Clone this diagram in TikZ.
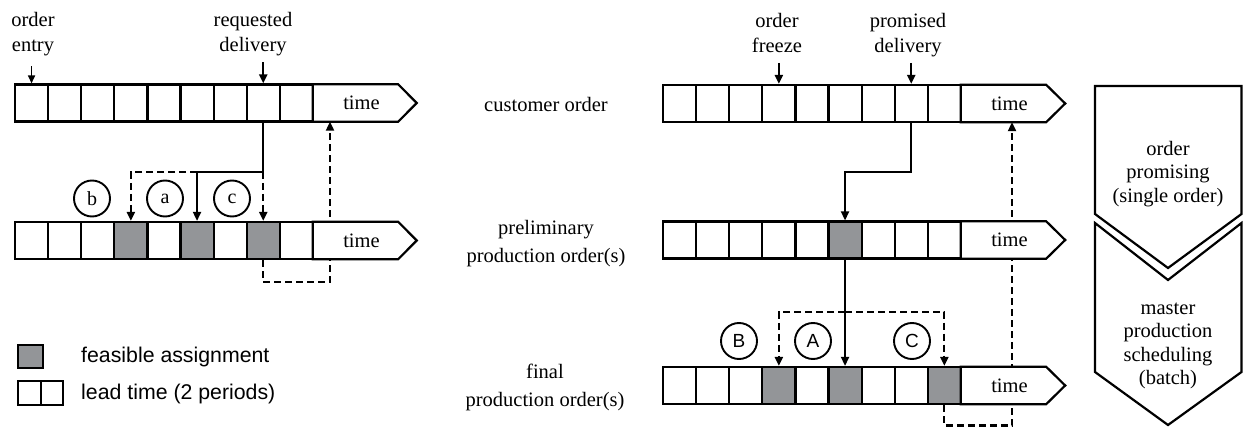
\documentclass[tikz,border=0pt]{standalone}
\usepackage{fontspec}
\setmainfont{Liberation Serif}
\newfontfamily\sansf{Liberation Sans}
\usetikzlibrary{arrows.meta,backgrounds}
\definecolor{cellgray}{RGB}{147,149,152}
\begin{document}
\begin{tikzpicture}[x=1pt,y=-1pt,
  cell/.style={draw, line width=2.2pt, minimum width=33.1pt, minimum height=37pt, inner sep=0pt, fill=white},
  gcell/.style={cell, fill=cellgray},
  tbox/.style={minimum width=85pt, minimum height=37pt, inner sep=0pt},
  tline/.style={line width=2.2pt, fill=white, line join=miter},
  arr/.style={line width=2.1pt, -{Triangle[length=9pt,width=8pt]}},
  thinarr/.style={line width=1.5pt, -{Triangle[length=8pt,width=7pt]}},
  dsh/.style={dash pattern=on 7pt off 4pt},
  lbl/.style={font=\fontsize{20.5}{24.5}\selectfont, align=center, inner sep=0pt},
  mlbl/.style={font=\fontsize{20.5}{28}\selectfont, align=center, inner sep=0pt},
  clbl/.style={font=\fontsize{20.5}{23.5}\selectfont, align=center, inner sep=0pt},
  slbl/.style={font=\sansf\fontsize{21.3}{25}\selectfont, inner sep=0pt},
  circ/.style={draw, circle, line width=1.9pt, minimum size=36pt, inner sep=0pt, font=\fontsize{20}{22}\selectfont},
  scirc/.style={circ, font=\sansf\fontsize{19}{22}\selectfont},
  chev/.style={line width=2.2pt, line join=miter}
]
\useasboundingbox (0,0) rectangle (1243,427);

% ---------- left rows ----------
\foreach \i in {1,...,9}
  \node[cell] (L1c\i) at ({15+33.1*(\i-0.5)},103) {};
\node[tbox] (L1t) at (355.5,103) {};
\draw[tline] (L1t.north west) -- (L1t.north east) -- ([xshift=18.5pt]L1t.east) -- (L1t.south east) -- (L1t.south west) -- cycle;
\node[lbl] (L1tl) at ([xshift=6pt]L1t.center) {time};

\foreach \i/\st in {1/cell,2/cell,3/cell,4/gcell,5/cell,6/gcell,7/cell,8/gcell,9/cell}
  \node[\st] (L2c\i) at ({15+33.1*(\i-0.5)},240.5) {};
\node[tbox] (L2t) at (355.5,240.5) {};
\draw[tline] (L2t.north west) -- (L2t.north east) -- ([xshift=18.5pt]L2t.east) -- (L2t.south east) -- (L2t.south west) -- cycle;
\node[lbl] (L2tl) at ([xshift=6pt]L2t.center) {time};

% ---------- right rows ----------
\foreach \i in {1,...,9}
  \node[cell] (R1c\i) at ({663+33.1*(\i-0.5)},103.5) {};
\node[tbox] (R1t) at (1003.5,103.5) {};
\draw[tline] (R1t.north west) -- (R1t.north east) -- ([xshift=19pt]R1t.east) -- (R1t.south east) -- (R1t.south west) -- cycle;
\node[lbl] (R1tl) at ([xshift=6pt]R1t.center) {time};

\foreach \i/\st in {1/cell,2/cell,3/cell,4/cell,5/cell,6/gcell,7/cell,8/cell,9/cell}
  \node[\st] (R2c\i) at ({663+33.1*(\i-0.5)},240) {};
\node[tbox] (R2t) at (1003.5,240) {};
\draw[tline] (R2t.north west) -- (R2t.north east) -- ([xshift=19pt]R2t.east) -- (R2t.south east) -- (R2t.south west) -- cycle;
\node[lbl] (R2tl) at ([xshift=6pt]R2t.center) {time};

\foreach \i/\st in {1/cell,2/cell,3/cell,4/gcell,5/cell,6/gcell,7/cell,8/cell,9/gcell}
  \node[\st] (R3c\i) at ({663+33.1*(\i-0.5)},385.5) {};
\node[tbox] (R3t) at (1003.5,385.5) {};
\draw[tline] (R3t.north west) -- (R3t.north east) -- ([xshift=19pt]R3t.east) -- (R3t.south east) -- (R3t.south west) -- cycle;
\node[lbl] (R3tl) at ([xshift=6pt]R3t.center) {time};

% ---------- top labels ----------
\node[lbl] (oe) at (33,34) {order\\entry};
\node[lbl] (rd) at (253,34) {requested\\delivery};
\node[lbl] (of) at (777,33) {order\\freeze};
\node[lbl] (pd) at (908,35) {promised\\delivery};
\draw[thinarr] ([yshift=17pt]L1c1.north) -- (L1c1.north);
\draw[arr] ([yshift=21pt]L1c8.north) -- (L1c8.north);
\draw[arr] ([yshift=21pt]R1c4.north) -- (R1c4.north);
\draw[arr] ([yshift=21pt]R1c8.north) -- (R1c8.north);

% ---------- middle labels ----------
\node[lbl, anchor=base] (co) at (546,112) {customer order};
\node[mlbl] (ppo) at (546,243.5) {preliminary\\production order(s)};
\node[mlbl] (fpo) at (545,387) {final\\production order(s)};

% ---------- circles ----------
\node[circ] (cb) at (92,198.5) {b};
\node[circ] (ca) at (165,198.5) {a};
\node[circ] (cc) at (232,198.5) {c};
\node[scirc] (cB) at (739,341) {B};
\node[scirc] (cA) at (813,341) {A};
\node[scirc] (cC) at (912,341) {C};

% ---------- left connectors ----------
\coordinate (yL) at (0,172);
\coordinate (yL2) at (0,282);
\coordinate (xL) at (330,0);
\draw[arr] (L1c8.south) -- (L1c8.south |- yL) -| (L2c6.north);
\draw[arr,dsh] (L2c6.north |- yL) -| (L2c4.north);
\draw[arr,dsh] (L1c8.south |- yL) -- (L2c8.north);
\begin{pgfonlayer}{background}
\draw[arr,dsh] (L2c8.south) -- (L2c8.south |- yL2) -| (xL |- L1t.south);
\end{pgfonlayer}

% ---------- right connectors ----------
\coordinate (yR) at (0,172);
\coordinate (yR2) at (0,312);
\coordinate (yR3) at (0,425.5);
\coordinate (xR) at (1012,0);
\draw[arr] (R1c8.south) -- (R1c8.south |- yR) -| (R2c6.north);
\draw[arr] (R2c6.south) -- (R3c6.north);
\draw[arr,dsh] (R2c6.south |- yR2) -| (R3c4.north);
\draw[arr,dsh] (R2c6.south |- yR2) -| (R3c9.north);
\begin{pgfonlayer}{background}
\draw[arr,dsh] (R3c9.south) -- (R3c9.south |- yR3) -| (xR |- R1t.south);
\end{pgfonlayer}

% ---------- legend ----------
\node[gcell, minimum width=25pt, minimum height=23pt] (lg1) at (30.5,356.5) {};
\node[cell, minimum width=23pt, minimum height=24pt] (lg2) at (29.5,393) {};
\node[cell, minimum width=22pt, minimum height=24pt] (lg3) at (52,393) {};
\node[slbl, anchor=base west] (lt1) at (81,363) {feasible assignment};
\node[slbl, anchor=base west] (lt2) at (81,400) {lead time (2 periods)};

% ---------- chevrons ----------
\draw[chev] (1095,86) -- (1241.5,86) -- (1241.5,214) -- (1168,268) -- (1095,214) -- cycle;
\draw[chev] (1095,223) -- (1168,280) -- (1241.5,223) -- (1241.5,372) -- (1168,425) -- (1095,372) -- cycle;
\node[clbl] (op) at (1168,174) {order\\promising\\(single order)};
\node[clbl] (mps) at (1168,346) {master\\production\\scheduling\\(batch)};
\end{tikzpicture}
\end{document}
